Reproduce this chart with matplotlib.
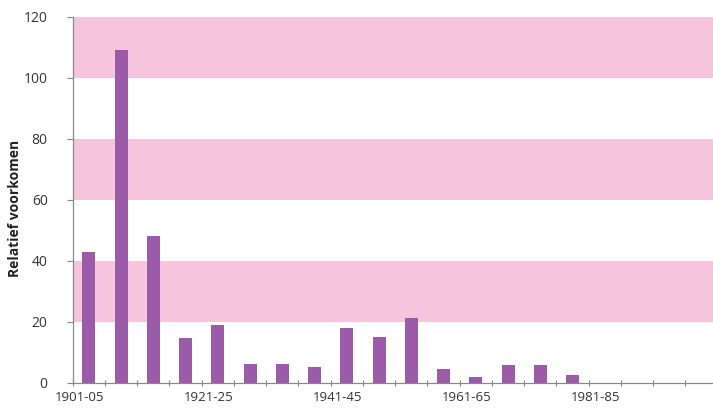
import matplotlib
matplotlib.use("Agg")
import matplotlib.pyplot as plt
from matplotlib.transforms import offset_copy

# Five-year periods 1901-05 ... 1996-2000
periods = ["1901-05", "1906-10", "1911-15", "1916-20", "1921-25", "1926-30",
           "1931-35", "1936-40", "1941-45", "1946-50", "1951-55", "1956-60",
           "1961-65", "1966-70", "1971-75", "1976-80", "1981-85", "1986-90",
           "1991-95", "1996-2000"]
values = [43, 109, 48, 14.7, 18.8, 6, 6, 5.2, 18, 15, 21.3, 4.4,
          1.8, 5.7, 5.7, 2.5, 0, 0, 0, 0]
labelled = ["1901-05", "1921-25", "1941-45", "1961-65", "1981-85"]
bands = [(20, 40), (60, 80), (100, 120)]
yticks = [0, 20, 40, 60, 80, 100, 120]

plt.rcParams["font.family"] = ["Open Sans", "DejaVu Sans"]

fig = plt.figure(figsize=(7.13, 4.09), dpi=100)
ax = fig.add_axes([0.102, 0.0643, 0.9046, 0.895])

for lo, hi in bands:
    ax.axhspan(lo, hi, color="#f6c4dd", lw=0, zorder=0)

x = list(range(len(periods)))
ax.bar(x, values, width=0.4, color="#9c5ba8", zorder=2)

ax.set_xlim(-0.5, len(periods) - 0.5)
ax.set_ylim(0, 120)

# ticks between categories on the x axis
ax.set_xticks([i - 0.5 for i in range(len(periods) + 1)])
ax.set_xticklabels([])
ax.tick_params(axis="x", direction="inout", length=4, width=0.8, color="#888888")
ax.set_yticks(yticks)
ax.set_yticklabels([str(t) for t in yticks], fontsize=10, color="#333333")
ax.tick_params(axis="y", direction="out", length=4, width=0.8, color="#888888", pad=14)

trans = offset_copy(ax.get_xaxis_transform(), fig=fig, x=-9, y=0, units="dots")
for lab in labelled:
    i = periods.index(lab)
    ax.text(i, -0.022, lab, transform=trans, ha="center", va="top",
            fontsize=9.5, color="#333333")

for side in ("top", "right"):
    ax.spines[side].set_visible(False)
for side in ("left", "bottom"):
    ax.spines[side].set_color("#888888")
    ax.spines[side].set_linewidth(0.9)

ax.set_ylabel("Relatief voorkomen", fontsize=10, fontweight="bold", color="#222222")
ax.yaxis.set_label_coords(-0.0786, 0.475)

fig.savefig("out.png", dpi=100)
